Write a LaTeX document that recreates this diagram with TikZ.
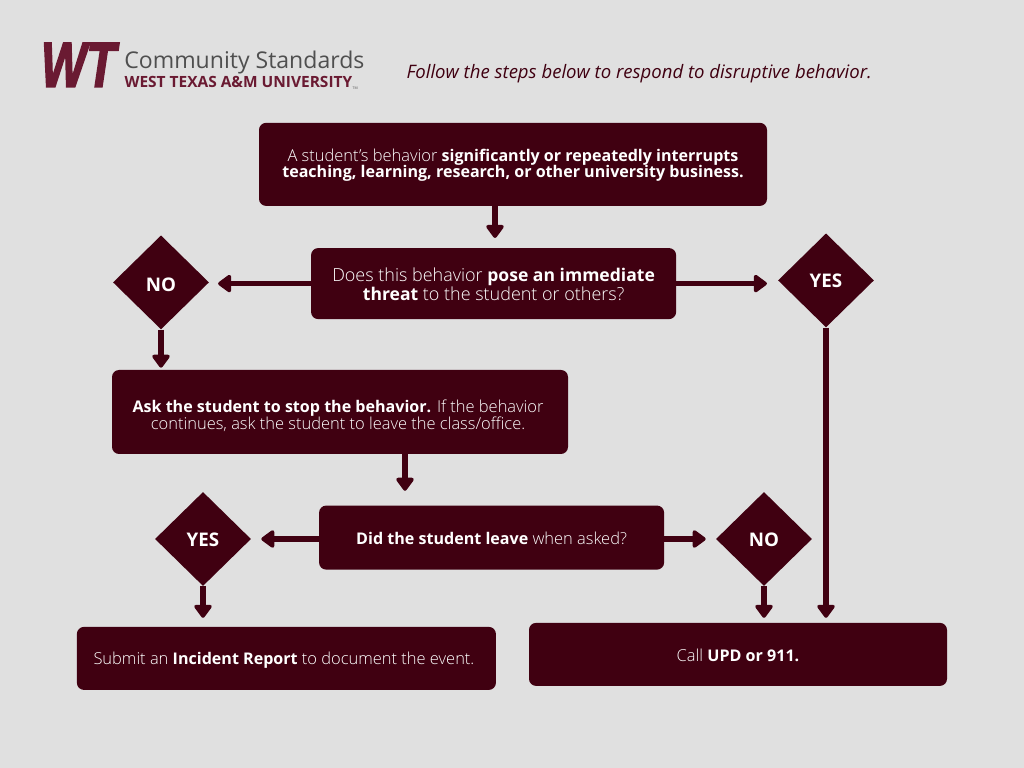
\documentclass[tikz,border=0pt]{standalone}
\usepackage{xcolor}
\usepackage{fontspec}
\setmainfont[Scale=1.027,BoldFont={Open Sans Bold},BoldFeatures={Scale=1.003}]{Open Sans Light}
\newfontfamily\logofont[BoldItalicFeatures={FakeBold=3}]{Liberation Sans}
\newfontfamily\plainfont{Open Sans}
\usetikzlibrary{shapes.geometric,arrows.meta}
\definecolor{wtback}{HTML}{E0E0E0}
\definecolor{wtdark}{HTML}{400011}
\definecolor{wtmaroon}{HTML}{6A1A32}
\definecolor{wtgray}{HTML}{4F4F4F}
\newcommand{\textdrop}[1]{\rule{0pt}{#1}}

\begin{document}
\begin{tikzpicture}[
    x=1cm,y=1cm,
    stepbox/.style={rounded corners=5pt, fill=wtdark, text=white, inner sep=0pt, align=center, font=\fontsize{11.4}{12}\selectfont},
    choice/.style={diamond, aspect=1, fill=wtdark, text=white, inner sep=0pt, minimum width=2.4cm, minimum height=2.35cm, font=\fontsize{13.3}{14}\selectfont\bfseries},
    link/.style={draw=wtdark, line width=3.7pt, -{Triangle[length=0.36cm,width=0.5cm,round]}}
  ]
    \fill[wtback] (0,0) rectangle (25.6,19.2);

    \node[inner sep=0pt, text=wtmaroon, xscale=0.76, font=\logofont\fontsize{45}{45}\selectfont\bfseries\itshape] (logo) at (1.96,17.58) {WT};
    \node[inner sep=0pt, text=wtgray, font=\plainfont\fontsize{16.4}{18}\selectfont] (community) at (6.11,17.64) {Community Standards};
    \node[inner sep=0pt, text=wtmaroon, font=\plainfont\fontsize{11}{13}\selectfont\bfseries] (west) at (5.96,17.14) {WEST TEXAS A\&M UNIVERSITY};
    \node[inner sep=0pt, text=wtgray, font=\plainfont\fontsize{2.5}{3}\selectfont] (trademark) at (8.88,17.0) {TM};
    \node[inner sep=0pt, text=wtdark, font=\plainfont\fontsize{13.2}{14}\selectfont\itshape] (follow) at (15.98,17.37) {Follow the steps below to respond to disruptive behavior.};

    \node[stepbox, minimum width=12.7cm, minimum height=2.075cm] (start) at (12.825,15.09) {\textdrop{10pt}A student’s behavior \textbf{significantly or repeatedly interrupts}\\\textbf{teaching, learning, research, or other university business.}};
    \node[stepbox, minimum width=9.125cm, minimum height=1.775cm, font=\fontsize{12.45}{12}\selectfont] (threat) at (12.34,12.11) {\textdrop{11pt}Does this behavior \textbf{pose an immediate}\\\textbf{threat} to the student or others?};
    \node[choice] (nofirst) at (4.025,12.14) {\textdrop{13.7pt}NO};
    \node[choice] (yesfirst) at (20.65,12.19) {\textdrop{10.9pt}YES};
    \node[stepbox, minimum width=11.4cm, minimum height=2.1cm] (stop) at (8.5,8.9) {\textdrop{14.2pt}\textbf{Ask the student to stop the behavior.} If the behavior\hspace*{2.8pt}\\continues, ask the student to leave the class/office.\hspace*{2.8pt}};
    \node[stepbox, minimum width=8.625cm, minimum height=1.6cm] (leave) at (12.29,5.76) {\textdrop{9.6pt}\textbf{Did the student leave} when asked?};
    \node[choice] (yessecond) at (5.075,5.725) {\textdrop{10.9pt}YES};
    \node[choice] (nosecond) at (19.1,5.725) {\textdrop{10.9pt}NO};
    \node[stepbox, minimum width=10.475cm, minimum height=1.575cm] (incident) at (7.16,2.74) {\textdrop{12pt}Submit an \textbf{Incident Report} to document the event.\hspace*{3.5pt}};
    \node[stepbox, minimum width=10.45cm, minimum height=1.575cm] (call) at (18.45,2.84) {\textdrop{9.6pt}Call \textbf{UPD or 911.}};

    \coordinate (starttip) at (12.375,13.25);
    \coordinate (leavetip) at (10.125,6.93);

    \draw[link] (start.south -| starttip) -- (starttip);
    \draw[link, shorten >=0.22cm] (threat.west) -- (nofirst.east |- threat.west);
    \draw[link, shorten >=0.27cm] (threat.east) -- (yesfirst.west |- threat.east);
    \draw[link, shorten >=0.05cm] (nofirst.south) -- (nofirst.south |- stop.north);
    \draw[link] (stop.south -| leavetip) -- (leavetip);
    \draw[link, shorten >=0.25cm] (leave.west |- yessecond.west) -- (yessecond.east);
    \draw[link, shorten >=0.25cm] (leave.east |- nosecond.west) -- (nosecond.west);
    \draw[link, shorten >=0.22cm] (yessecond.south) -- (yessecond.south |- incident.north);
    \draw[link, shorten >=0.12cm] (nosecond.south) -- (nosecond.south |- call.north);
    \draw[link, shorten >=0.12cm] (yesfirst.south) -- (yesfirst.south |- call.north);
\end{tikzpicture}
\end{document}
